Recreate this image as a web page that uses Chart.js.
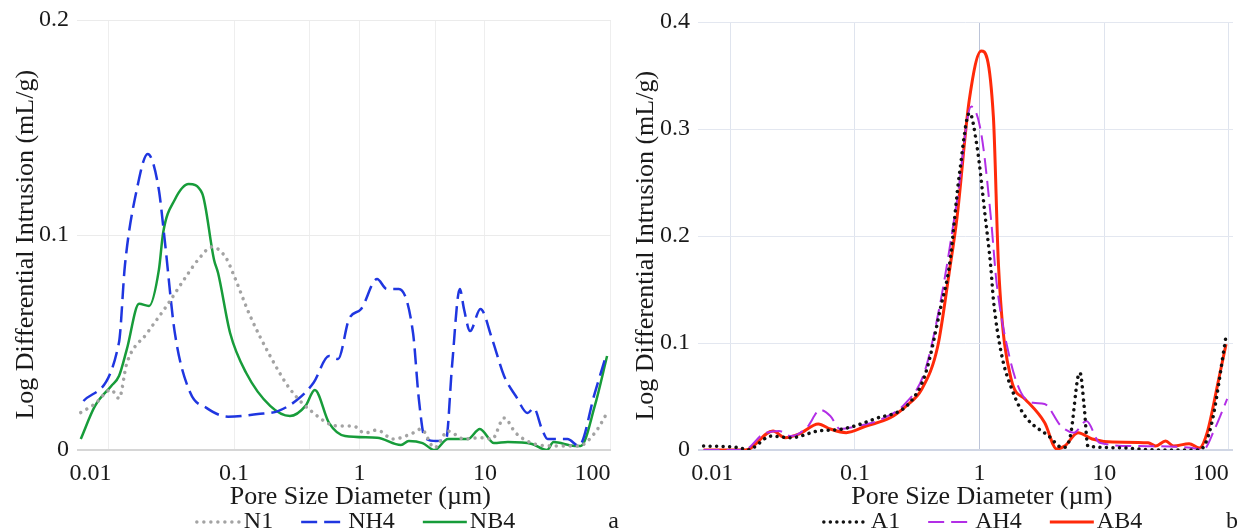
<!DOCTYPE html>
<html>
<head>
<meta charset="utf-8">
<script src="https://cdn.jsdelivr.net/npm/chart.js"></script>
<style>
  html, body { margin: 0; padding: 0; background: #fff; }
  .wrap { position: relative; width: 1239px; height: 532px; }
  .panel { position: absolute; top: 0; }
</style>
</head>
<body>
<div class="wrap">
  <div class="panel" style="left:0"><canvas id="chartA" width="620" height="532"></canvas></div>
  <div class="panel" style="left:620px"><canvas id="chartB" width="619" height="532"></canvas></div>
</div>
<script>
// Pore size distributions (diameter in um, log differential intrusion in mL/g)

const n1Size = [0.006, 0.0078, 0.0105, 0.0121, 0.014, 0.0203, 0.029, 0.0418, 0.0516, 0.0668, 0.086, 0.1, 0.134, 0.194, 0.279, 0.43, 0.66, 0.89, 1.1, 1.38, 1.85, 2.67, 3.1, 3.96, 5.07, 6.8, 9.2, 11.4, 14.2, 17.6, 23.7, 36, 56, 75, 94]
const n1Vals = [0.0174, 0.0215, 0.028, 0.024, 0.0405, 0.0544, 0.067, 0.081, 0.0884, 0.0944, 0.0895, 0.081, 0.0625, 0.0437, 0.0284, 0.0172, 0.0112, 0.0112, 0.0079, 0.0093, 0.0051, 0.0079, 0.0098, 0.001, 0.0088, 0.0051, 0.0057, 0.0051, 0.0149, 0.0079, 0.0032, 0.0019, 0.0019, 0.0079, 0.0172]

const nh4Size = [0.0063, 0.0121, 0.0135, 0.0169, 0.0205, 0.025, 0.028, 0.0337, 0.0447, 0.0598, 0.0896, 0.155, 0.224, 0.324, 0.43, 0.571, 0.675, 0.826, 1.03, 1.38, 1.65, 2.06, 2.67, 2.97, 3.31, 4.1, 4.9, 5.46, 6.3, 6.8, 7.6, 9.2, 11.4, 14.2, 17.6, 21.9, 24.5, 28.4, 31.6, 45.4, 56, 75, 92]
const nh4Vals = [0.0228, 0.050, 0.086, 0.122, 0.1377, 0.122, 0.0977, 0.0546, 0.0267, 0.0197, 0.0155, 0.0167, 0.0181, 0.0237, 0.0313, 0.0437, 0.0423, 0.061, 0.0656, 0.0795, 0.0749, 0.0749, 0.0544, 0.0237, 0.0057, 0.0042, 0.005, 0.039, 0.0749, 0.0656, 0.0553, 0.0656, 0.0516, 0.0344, 0.0251, 0.0172, 0.0195, 0.0098, 0.0051, 0.0051, 0.0019, 0.0265, 0.0437]

const nb4Size = [0.006, 0.0078, 0.0105, 0.0121, 0.014, 0.0175, 0.021, 0.0252, 0.0272, 0.0336, 0.0435, 0.0556, 0.0693, 0.0746, 0.093, 0.125, 0.194, 0.279, 0.371, 0.44, 0.571, 0.767, 1.38, 2.14, 2.47, 3.18, 3.96, 5.07, 7.3, 9.1, 11.8, 15.2, 23.7, 31.2, 35.2, 52, 58, 75, 94]
const nb4Vals = [0.0051, 0.0205, 0.0298, 0.0344, 0.047, 0.068, 0.067, 0.084, 0.101, 0.1163, 0.1237, 0.1195, 0.0884, 0.0823, 0.0544, 0.0358, 0.0205, 0.0158, 0.0205, 0.0279, 0.0126, 0.0065, 0.0057, 0.0023, 0.0042, 0.0032, 0, 0.0051, 0.0051, 0.0098, 0.0032, 0.0037, 0.0028, 0, 0.0037, 0.0019, 0.0019, 0.0205, 0.0437]

const a1Size = [0.0061, 0.0118, 0.0137, 0.0213, 0.0306, 0.0508, 0.079, 0.143, 0.275, 0.37, 0.49, 0.57, 0.69, 0.83, 0.954, 1.11, 1.23, 1.29, 1.49, 1.86, 2.31, 3.59, 4.64, 5.35, 6.17, 6.4, 6.9, 7.4, 12.5, 28, 58, 72, 95]
const a1Vals = [0.0037, 0.0022, 0, 0.013, 0.0115, 0.0178, 0.0196, 0.029, 0.0442, 0.0723, 0.1346, 0.171, 0.2586, 0.315, 0.2835, 0.218, 0.171, 0.141, 0.091, 0.0536, 0.0318, 0.013, 0.0022, 0.013, 0.069, 0.072, 0.041, 0.0037, 0.0022, 0, 0, 0.0224, 0.1065]

const ah4Size = [0.0061, 0.0128, 0.0184, 0.0246, 0.0306, 0.041, 0.0527, 0.0634, 0.076, 0.106, 0.165, 0.257, 0.36, 0.49, 0.66, 0.857, 1.03, 1.23, 1.37, 1.73, 2.15, 2.69, 3.33, 4.5, 5.7, 7.2, 9.2, 17.8, 50, 62, 77, 97]
const ah4Vals = [0, 0, 0.0149, 0.0178, 0.013, 0.0209, 0.0374, 0.0318, 0.0196, 0.0224, 0.029, 0.0442, 0.0723, 0.141, 0.2336, 0.321, 0.296, 0.218, 0.156, 0.0879, 0.0536, 0.0442, 0.043, 0.0224, 0.0162, 0.0271, 0.0068, 0.0037, 0.0022, 0, 0.0196, 0.0477]

const ab4Size = [0.0061, 0.0132, 0.022, 0.0275, 0.0355, 0.0508, 0.0634, 0.085, 0.123, 0.192, 0.257, 0.344, 0.462, 0.57, 0.66, 0.826, 1.03, 1.29, 1.42, 1.79, 2.31, 3.33, 4.15, 4.81, 6.17, 8.0, 11.6, 22.5, 25.9, 31.1, 36, 48, 58, 67, 83, 95]
const ab4Vals = [0, 0, 0.0178, 0.0115, 0.0149, 0.0243, 0.0196, 0.0162, 0.0224, 0.0302, 0.0411, 0.057, 0.0972, 0.1657, 0.218, 0.327, 0.373, 0.3115, 0.171, 0.0664, 0.0477, 0.0255, 0.001, 0.0037, 0.0162, 0.0103, 0.0075, 0.0068, 0.0037, 0.0084, 0.0037, 0.0059, 0.0019, 0.0162, 0.0664, 0.099]

const xTickValues = [0.01, 0.1, 1, 10, 100]
const xTickLabels = ['0.01', '0.1', '1', '10', '100']
const extraGridA = [0.4, 4]

const serif = 'Liberation Serif'

const toPoints = (xs, ys) => xs.map((x, i) => ({ x: x, y: ys[i] }))

// legend drawn as line samples under the axis title, plus the panel letter
const lineLegend = {
    id: 'lineLegend',
    afterDraw(chart, args, opts) {
        const ctx = chart.ctx
        ctx.save()
        ctx.font = '24px "' + serif + '"'
        ctx.textBaseline = 'middle'
        const items = chart.data.datasets.map(ds => ({ ds: ds, w: ctx.measureText(ds.label).width }))
        let total = opts.spacing * (items.length - 1)
        items.forEach(it => { total += opts.sample + opts.gap + it.w })
        let x = opts.center - total / 2
        items.forEach(it => {
            ctx.strokeStyle = it.ds.borderColor
            ctx.lineWidth = it.ds.borderWidth
            ctx.lineCap = it.ds.borderCapStyle || 'butt'
            ctx.setLineDash(it.ds.borderDash || [])
            ctx.beginPath()
            ctx.moveTo(x, opts.y)
            ctx.lineTo(x + opts.sample, opts.y)
            ctx.stroke()
            x += opts.sample + opts.gap
            ctx.fillStyle = '#1a1a1a'
            ctx.fillText(it.ds.label, x, opts.y)
            x += it.w + opts.spacing
        })
        ctx.textAlign = 'right'
        ctx.fillText(opts.tag, chart.width - 1, opts.y)
        ctx.restore()
    }
}

function makeChart(id, cfg) {
    return new Chart(document.getElementById(id), {
        type: 'line',
        data: { datasets: cfg.datasets },
        plugins: [lineLegend],
        options: {
            responsive: false,
            animation: false,
            layout: { padding: cfg.padding },
            elements: { point: { radius: 0 }, line: { cubicInterpolationMode: 'monotone' } },
            plugins: {
                legend: { display: false },
                tooltip: { enabled: false },
                lineLegend: cfg.legend
            },
            scales: {
                x: {
                    type: 'logarithmic',
                    min: cfg.xMin,
                    max: cfg.xMax,
                    afterBuildTicks: s => { s.ticks = xTickValues.concat(cfg.extraGrid).sort((a, b) => a - b).map(v => ({ value: v })) },
                    afterFit: s => { s.height = 63; s.paddingLeft = 0; s.paddingRight = 0 },
                    border: { display: false },
                    grid: {
                        drawTicks: false,
                        color: c => (c.tick && c.tick.value === 1 ? cfg.gridOne : cfg.gridX)
                    },
                    ticks: {
                        autoSkip: false,
                        maxRotation: 0,
                        padding: 9,
                        color: '#1a1a1a',
                        font: { family: serif, size: 24 },
                        callback: v => {
                            const i = xTickValues.indexOf(v)
                            if (i < 0) return ''
                            // end labels sit inside the plot in the original
                            if (i === 0 || i === xTickValues.length - 1) return xTickLabels[i] + '      '
                            return xTickLabels[i]
                        }
                    },
                    title: {
                        display: true,
                        text: '     Pore Size Diameter (\u00b5m)',
                        color: '#1a1a1a',
                        font: { family: serif, size: 26 },
                        padding: { top: 0, bottom: 0 }
                    }
                },
                y: {
                    min: 0,
                    max: cfg.yMax,
                    afterFit: s => { s.width = cfg.yWidth; s.paddingTop = 0; s.paddingBottom = 0 },
                    border: { display: false },
                    grid: {
                        drawTicks: false,
                        color: c => (c.tick && c.tick.value === 0 ? cfg.gridZero : cfg.gridY),
                        lineWidth: c => (c.tick && c.tick.value === 0 ? 2 : 1)
                    },
                    ticks: {
                        stepSize: 0.1,
                        padding: 8,
                        color: '#1a1a1a',
                        font: { family: serif, size: 24 },
                        callback: v => (v === 0 ? '0' : v.toFixed(1))
                    },
                    title: {
                        display: true,
                        text: 'Log Differential Intrusion (mL/g)   ',
                        color: '#1a1a1a',
                        font: { family: serif, size: 26 },
                        padding: { top: 11, bottom: 0 }
                    }
                }
            }
        }
    })
}

makeChart('chartA', {
    datasets: [
        {
            label: 'N1',
            data: toPoints(n1Size, n1Vals),
            borderColor: '#a3a3a3',
            borderWidth: 3.5,
            borderDash: [0.01, 7],
            borderCapStyle: 'round'
        },
        {
            label: 'NH4',
            data: toPoints(nh4Size, nh4Vals),
            borderColor: '#1f36e0',
            borderWidth: 2.5,
            borderDash: [16, 7]
        },
        {
            label: 'NB4',
            data: toPoints(nb4Size, nb4Vals),
            borderColor: '#179c3a',
            borderWidth: 2.5
        }
    ],
    padding: { top: 20, right: 9, bottom: 19, left: 0 },
    yWidth: 77,
    yMax: 0.2,
    xMin: 0.0056,
    xMax: 101,
    extraGrid: extraGridA,
    gridX: '#eeeeee',
    gridOne: '#eeeeee',
    gridY: '#ebebeb',
    gridZero: '#d6d6d6',
    legend: { center: 356, y: 522, sample: 44, gap: 3, spacing: 28, tag: 'a' }
})

makeChart('chartB', {
    datasets: [
        {
            label: 'A1',
            data: toPoints(a1Size, a1Vals),
            borderColor: '#111111',
            borderWidth: 3.5,
            borderDash: [0.01, 6.5],
            borderCapStyle: 'round'
        },
        {
            label: 'AH4',
            data: toPoints(ah4Size, ah4Vals),
            borderColor: '#b22ee6',
            borderWidth: 2,
            borderDash: [16, 7]
        },
        {
            label: 'AB4',
            data: toPoints(ab4Size, ab4Vals),
            borderColor: '#ff2a0a',
            borderWidth: 3
        }
    ],
    padding: { top: 22, right: 6, bottom: 19, left: 0 },
    yWidth: 78,
    yMax: 0.4,
    xMin: 0.0055,
    xMax: 108,
    extraGrid: [],
    gridX: '#dfe4ee',
    gridOne: '#bcc4d8',
    gridY: '#e3e7f0',
    gridZero: '#d0d6e4',
    legend: { center: 363, y: 522, sample: 44, gap: 3, spacing: 28, tag: 'b' }
})
</script>
</body>
</html>
